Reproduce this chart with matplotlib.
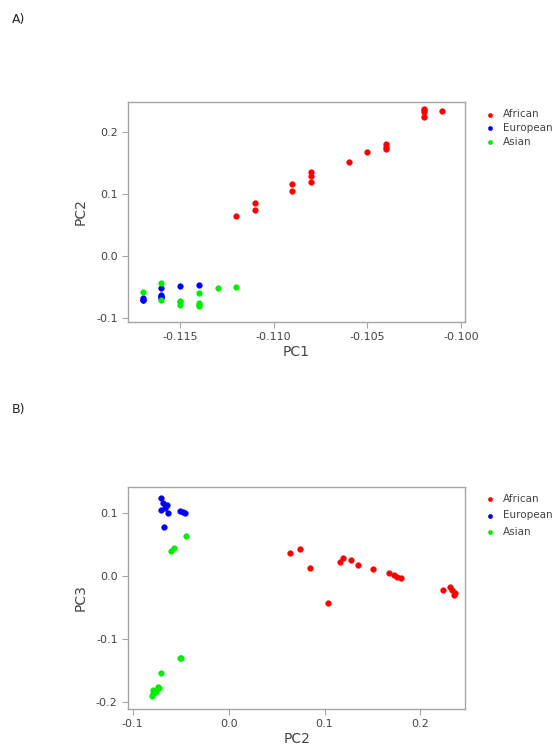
import matplotlib
matplotlib.use("Agg")
import matplotlib.pyplot as plt

## Per-sample principal components
african_pc1 = [-0.112, -0.111, -0.111, -0.109, -0.109, -0.108, -0.108, -0.108, -0.106,
               -0.105, -0.104, -0.104, -0.104, -0.102, -0.102, -0.102, -0.101, -0.102]
african_pc2 = [0.064, 0.085, 0.074, 0.116, 0.104, 0.135, 0.128, 0.119, 0.151,
               0.167, 0.180, 0.172, 0.176, 0.236, 0.231, 0.223, 0.233, 0.235]
african_pc3 = [0.036, 0.013, 0.043, 0.022, -0.043, 0.017, 0.025, 0.029, 0.011,
               0.005, -0.003, 0.002, -0.002, -0.027, -0.017, -0.022, -0.022, -0.030]

european_pc1 = [-0.117, -0.117, -0.116, -0.116, -0.117, -0.116, -0.116, -0.116, -0.115, -0.114]
european_pc2 = [-0.070, -0.068, -0.064, -0.066, -0.071, -0.063, -0.067, -0.051, -0.048, -0.046]
european_pc3 = [0.124, 0.116, 0.113, 0.108, 0.105, 0.100, 0.078, 0.103, 0.102, 0.100]

asian_pc1 = [-0.116, -0.117, -0.114, -0.113, -0.112, -0.116, -0.115, -0.115, -0.114, -0.114, -0.114, -0.115]
asian_pc2 = [-0.044, -0.057, -0.060, -0.051, -0.050, -0.071, -0.074, -0.079, -0.079, -0.080, -0.076, -0.073]
asian_pc3 = [0.063, 0.044, 0.040, -0.130, -0.130, -0.154, -0.176, -0.181, -0.186, -0.190, -0.184, -0.178]

groups = ['African', 'European', 'Asian']
colors = ['#ff0000', '#0000ff', '#00ee00']

pc1 = [african_pc1, european_pc1, asian_pc1]
pc2 = [african_pc2, european_pc2, asian_pc2]
pc3 = [african_pc3, european_pc3, asian_pc3]

gray = '#a5a5a5'
text_col = '#444444'


def style_axes(ax):
    for s in ax.spines.values():
        s.set_color(gray)
        s.set_linewidth(1.0)
    ax.tick_params(colors=gray, labelcolor=text_col, labelsize=8, length=4, width=0.8)


def scatter_panel(ax, xs, ys, xlabel, ylabel, spacing):
    for x, y, g, c in zip(xs, ys, groups, colors):
        ax.scatter(x, y, s=17, color=c, edgecolors=c, linewidths=0.3, label=g, zorder=3)
    ax.set_xlabel(xlabel, fontsize=10, color=text_col, labelpad=2)
    ax.set_ylabel(ylabel, fontsize=10, color=text_col, labelpad=6)
    style_axes(ax)
    leg = ax.legend(loc='upper left', bbox_to_anchor=(1.02, 1.0), frameon=False,
                    fontsize=7.5, handletextpad=0.3, labelspacing=spacing,
                    markerscale=0.75, borderaxespad=0.3)
    for t in leg.get_texts():
        t.set_color(text_col)


fig = plt.figure(figsize=(5.6, 7.56), dpi=100)

## Panel A: PC1 vs PC2
ax1 = fig.add_axes([0.2286, 0.574, 0.602, 0.291])
scatter_panel(ax1, pc1, pc2, 'PC1', 'PC2', 0.35)
ax1.set_xlim(-0.11778, -0.09978)
ax1.set_ylim(-0.1061, 0.2476)
ax1.set_xticks([-0.115, -0.110, -0.105, -0.100])
ax1.set_xticklabels(['-0.115', '-0.110', '-0.105', '-0.100'])
ax1.set_yticks([-0.1, 0.0, 0.1, 0.2])
ax1.set_yticklabels(['-0.1', '0.0', '0.1', '0.2'])

## Panel B: PC2 vs PC3
ax2 = fig.add_axes([0.2286, 0.0622, 0.602, 0.2937])
scatter_panel(ax2, pc2, pc3, 'PC2', 'PC3', 0.6)
ax2.set_xlim(-0.1049, 0.2466)
ax2.set_ylim(-0.2111, 0.1413)
ax2.set_xticks([-0.1, 0.0, 0.1, 0.2])
ax2.set_xticklabels(['-0.1', '0.0', '0.1', '0.2'])
ax2.set_yticks([-0.2, -0.1, 0.0, 0.1])
ax2.set_yticklabels(['-0.2', '-0.1', '0.0', '0.1'])

fig.text(12 / 560, 1 - 20 / 756, 'A)', fontsize=9, va='center', ha='left', color='#222222')
fig.text(12 / 560, 1 - 410 / 756, 'B)', fontsize=9, va='center', ha='left', color='#222222')

fig.savefig('out.png', dpi=100)
